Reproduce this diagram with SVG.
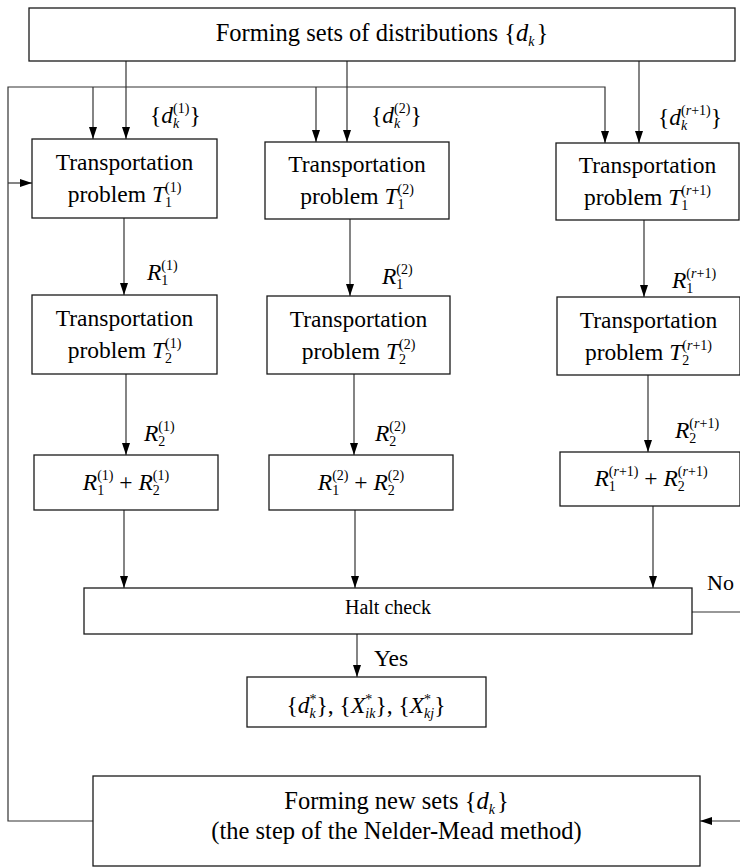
<svg xmlns="http://www.w3.org/2000/svg" width="740" height="867" viewBox="0 0 740 867" font-family="'Liberation Serif', Tinos, 'Times New Roman', 'DejaVu Serif', serif">
<style>
text{font-family:'Liberation Serif', Tinos, 'Times New Roman', 'DejaVu Serif', serif;fill:#000}
.t{font-size:23.5px}
.c{text-anchor:middle}
.big{font-size:24.5px}
.i{font-style:italic}
.sb{font-size:14px;font-style:italic}
.sn{font-size:14px}
.sp{font-size:14px}
.box{fill:#fff;stroke:#1a1a1a;stroke-width:1.3}
.ln{fill:none;stroke:#333;stroke-width:1.2}
.ar{fill:none;stroke:#333;stroke-width:1.2;marker-end:url(#ah)}
</style>
<defs>
<marker id="ah" markerUnits="userSpaceOnUse" markerWidth="12" markerHeight="10" viewBox="0 0 12 10" refX="12" refY="5" orient="auto">
<path d="M0,1 L12,5 L0,9 z" fill="#000"/>
</marker>
</defs>
<rect width="740" height="867" fill="#fff"/>

<g id="connectors">
<path class="ar" d="M126,61 V139"/>
<path class="ar" d="M347,61 V142"/>
<path class="ar" d="M639,61 V143"/>
<path class="ar" d="M93,821 H8 V87 H605 V143"/>
<path class="ar" d="M93,87 V139"/>
<path class="ar" d="M316,87 V142"/>
<path class="ar" d="M8,183 H32"/>
<path class="ar" d="M124,218 V295"/>
<path class="ar" d="M350,219 V296"/>
<path class="ar" d="M644,220 V297"/>
<path class="ar" d="M126,374 V455"/>
<path class="ar" d="M354,374 V455"/>
<path class="ar" d="M648,375 V452"/>
<path class="ar" d="M124,510 V588"/>
<path class="ar" d="M355,510 V588"/>
<path class="ar" d="M653,506 V588"/>
<path class="ar" d="M357,634 V677"/>
<path class="ln" d="M692,612 H740"/>
<path class="ar" d="M740,821 H700"/>
</g>

<g id="top">
<rect class="box" x="29" y="8" width="706" height="53"/>
<text class="big c" x="382" y="41">Forming sets of distributions {<tspan class="i">d</tspan><tspan class="sb" dy="5">k</tspan><tspan dy="-5" dx="2">}</tspan></text>
</g>

<g id="lbl-d">
<text class="t" x="150" y="123">{<tspan class="i">d</tspan><tspan class="sb" dy="5">k</tspan><tspan class="sp" dx="-6.2" dy="-15">(1)</tspan><tspan dy="10">}</tspan></text>
<text class="t" x="371" y="123">{<tspan class="i">d</tspan><tspan class="sb" dy="5">k</tspan><tspan class="sp" dx="-6.2" dy="-15">(2)</tspan><tspan dy="10">}</tspan></text>
<text class="t" x="658" y="125">{<tspan class="i">d</tspan><tspan class="sb" dy="5">k</tspan><tspan class="sp" dx="-6.2" dy="-15">(<tspan class="i">r</tspan>+1)</tspan><tspan dy="10">}</tspan></text>
</g>

<g id="t11">
<rect class="box" x="32" y="139" width="185" height="79"/>
<text class="t c" x="124.5" y="170">Transportation</text>
<text class="t c" x="124.5" y="202">problem <tspan class="i">T</tspan><tspan class="sn" dy="5">1</tspan><tspan class="sp" dx="-7" dy="-15">(1)</tspan></text>
</g>
<g id="t12">
<rect class="box" x="265" y="142" width="184" height="77"/>
<text class="t c" x="357" y="172">Transportation</text>
<text class="t c" x="357" y="204">problem <tspan class="i">T</tspan><tspan class="sn" dy="5">1</tspan><tspan class="sp" dx="-7" dy="-15">(2)</tspan></text>
</g>
<g id="t13">
<rect class="box" x="556" y="143" width="183" height="77"/>
<text class="t c" x="647.5" y="173">Transportation</text>
<text class="t c" x="647.5" y="205">problem <tspan class="i">T</tspan><tspan class="sn" dy="5">1</tspan><tspan class="sp" dx="-7" dy="-15">(<tspan class="i">r</tspan>+1)</tspan></text>
</g>

<g id="lbl-r1">
<text class="t" x="147" y="280"><tspan class="i">R</tspan><tspan class="sn" dy="5">1</tspan><tspan class="sp" dx="-7" dy="-15">(1)</tspan></text>
<text class="t" x="382" y="284"><tspan class="i">R</tspan><tspan class="sn" dy="5">1</tspan><tspan class="sp" dx="-7" dy="-15">(2)</tspan></text>
<text class="t" x="672" y="288"><tspan class="i">R</tspan><tspan class="sn" dy="5">1</tspan><tspan class="sp" dx="-7" dy="-15">(<tspan class="i">r</tspan>+1)</tspan></text>
</g>

<g id="t21">
<rect class="box" x="32" y="295" width="185" height="79"/>
<text class="t c" x="124.5" y="326">Transportation</text>
<text class="t c" x="124.5" y="358">problem <tspan class="i">T</tspan><tspan class="sn" dy="5">2</tspan><tspan class="sp" dx="-7" dy="-15">(1)</tspan></text>
</g>
<g id="t22">
<rect class="box" x="267" y="296" width="183" height="78"/>
<text class="t c" x="358.5" y="327">Transportation</text>
<text class="t c" x="358.5" y="359">problem <tspan class="i">T</tspan><tspan class="sn" dy="5">2</tspan><tspan class="sp" dx="-7" dy="-15">(2)</tspan></text>
</g>
<g id="t23">
<rect class="box" x="557" y="297" width="183" height="78"/>
<text class="t c" x="648.5" y="328">Transportation</text>
<text class="t c" x="648.5" y="360">problem <tspan class="i">T</tspan><tspan class="sn" dy="5">2</tspan><tspan class="sp" dx="-7" dy="-15">(<tspan class="i">r</tspan>+1)</tspan></text>
</g>

<g id="lbl-r2">
<text class="t" x="144" y="441"><tspan class="i">R</tspan><tspan class="sn" dy="5">2</tspan><tspan class="sp" dx="-7" dy="-15">(1)</tspan></text>
<text class="t" x="375" y="441"><tspan class="i">R</tspan><tspan class="sn" dy="5">2</tspan><tspan class="sp" dx="-7" dy="-15">(2)</tspan></text>
<text class="t" x="675" y="438"><tspan class="i">R</tspan><tspan class="sn" dy="5">2</tspan><tspan class="sp" dx="-7" dy="-15">(<tspan class="i">r</tspan>+1)</tspan></text>
</g>

<g id="s1">
<rect class="box" x="34" y="455" width="184" height="55"/>
<text class="t c" x="126" y="490"><tspan class="i">R</tspan><tspan class="sn" dy="5">1</tspan><tspan class="sp" dx="-7" dy="-15">(1)</tspan><tspan dy="10"> + </tspan><tspan class="i">R</tspan><tspan class="sn" dy="5">2</tspan><tspan class="sp" dx="-7" dy="-15">(1)</tspan></text>
</g>
<g id="s2">
<rect class="box" x="269" y="455" width="184" height="55"/>
<text class="t c" x="361" y="490"><tspan class="i">R</tspan><tspan class="sn" dy="5">1</tspan><tspan class="sp" dx="-7" dy="-15">(2)</tspan><tspan dy="10"> + </tspan><tspan class="i">R</tspan><tspan class="sn" dy="5">2</tspan><tspan class="sp" dx="-7" dy="-15">(2)</tspan></text>
</g>
<g id="s3">
<rect class="box" x="560" y="452" width="180" height="54"/>
<text class="t c" x="651" y="486"><tspan class="i">R</tspan><tspan class="sn" dy="5">1</tspan><tspan class="sp" dx="-7" dy="-15">(<tspan class="i">r</tspan>+1)</tspan><tspan dy="10"> + </tspan><tspan class="i">R</tspan><tspan class="sn" dy="5">2</tspan><tspan class="sp" dx="-7" dy="-15">(<tspan class="i">r</tspan>+1)</tspan></text>
</g>

<g id="halt">
<rect class="box" x="84" y="588" width="608" height="46"/>
<text class="c" style="font-size:20px" x="388" y="614">Halt check</text>
<text style="font-size:22px" x="707" y="590">No</text>
<text class="t" x="374" y="666">Yes</text>
</g>

<g id="result">
<rect class="box" x="247" y="677" width="239" height="50"/>
<text class="t c" x="366" y="713">{<tspan class="i">d</tspan><tspan class="sb" dy="5">k</tspan><tspan class="sp" dx="-6.2" dy="-14">*</tspan><tspan dy="9">}, {</tspan><tspan class="i">X</tspan><tspan class="sb" dy="5">ik</tspan><tspan class="sp" dx="-10.1" dy="-14">*</tspan><tspan dx="3.1" dy="9">}, {</tspan><tspan class="i">X</tspan><tspan class="sb" dy="5">kj</tspan><tspan class="sp" dx="-10.1" dy="-14">*</tspan><tspan dx="3.1" dy="9">}</tspan></text>
</g>

<g id="newsets">
<rect class="box" x="93" y="776" width="607" height="90"/>
<text class="big c" x="396.5" y="809">Forming new sets {<tspan class="i">d</tspan><tspan class="sb" dy="5">k</tspan><tspan dy="-5" dx="2">}</tspan></text>
<text class="big c" x="396.5" y="839">(the step of the Nelder-Mead method)</text>
</g>
</svg>
